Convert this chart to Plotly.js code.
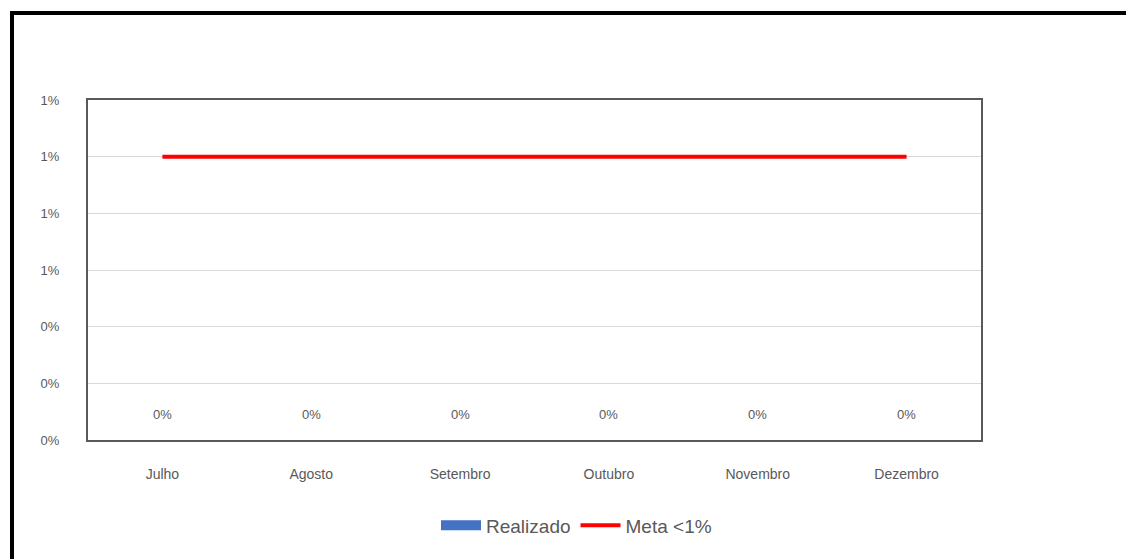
<!DOCTYPE html>
<html><head><meta charset="utf-8">
<script src="https://cdn.plot.ly/plotly-3.0.1.min.js"></script>
<style>
html,body{margin:0;padding:0;background:#fff;width:1126px;height:559px;overflow:hidden;}
#chart{position:absolute;left:0;top:0;width:1126px;height:559px;}
#frame{position:absolute;left:10px;top:11px;width:1130px;height:560px;border-top:4px solid #000;border-left:4px solid #000;pointer-events:none;}
</style></head>
<body>
<div id="chart"></div>
<div id="frame"></div>
<script>
const months = ["Julho","Agosto","Setembro","Outubro","Novembro","Dezembro"];
const realizado = [0,0,0,0,0,0];
const meta = [0.01,0.01,0.01,0.01,0.01,0.01];
const yTicks = [0,0.002,0.004,0.006,0.008,0.010,0.012];

const fam = "Liberation Sans, Arial, sans-serif";
const gray = "#595959";

const traces = [
  {type:"bar", name:"Realizado", x:months, y:realizado, marker:{color:"#4472C4"},
   showlegend:false, hoverinfo:"skip"},
  {type:"scatter", mode:"lines", name:"Realizado", x:months, y:months.map(()=>null),
   line:{color:"#4472C4", width:15}, hoverinfo:"skip", showlegend:true},
  {type:"scatter", mode:"lines", name:"Meta <1%", x:months, y:meta,
   line:{color:"#FF0000", width:4}, hoverinfo:"skip"}
];

const annotations = months.map((m,i)=>({
  x:m, y:realizado[i], xref:"x", yref:"y", text:Math.round(realizado[i]*100)+"%",
  showarrow:false, yshift:26, font:{family:fam, size:13, color:gray}
}));

const layout = {
  width:1126, height:559,
  margin:{l:88, r:145, t:100, b:119},
  paper_bgcolor:"#fff", plot_bgcolor:"#fff",
  showlegend:true,
  annotations:annotations,
  legend:{orientation:"h", xref:"container", yref:"container", x:0.512, xanchor:"center", y:0.06, yanchor:"middle",
          font:{family:fam, size:19, color:gray}, traceorder:"normal", itemwidth:40},
  xaxis:{type:"category", showgrid:false, showline:true, mirror:true, linecolor:gray, linewidth:2,
         ticks:"", tickfont:{family:fam, size:14, color:gray}, ticklabelstandoff:20, zeroline:false},
  yaxis:{range:[0,0.012], tickvals:yTicks, tickformat:".0%", showgrid:true, gridcolor:"#D9D9D9", gridwidth:1,
         showline:true, mirror:true, linecolor:gray, linewidth:2, zeroline:false,
         ticks:"", tickfont:{family:fam, size:13, color:gray}, ticklabelstandoff:24},
  bargap:0.4
};

Plotly.newPlot("chart", traces, layout, {displayModeBar:false, staticPlot:true});
</script>
</body></html>
